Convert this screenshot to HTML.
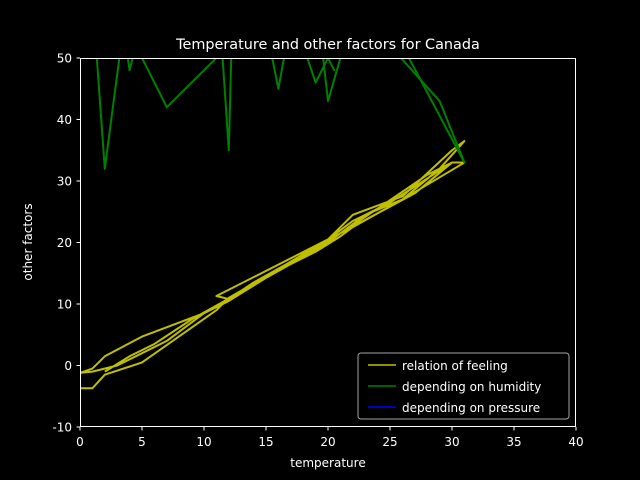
<!DOCTYPE html>
<html><head><meta charset="utf-8"><style>body{margin:0;background:#000}svg{display:block}text{font-family:"DejaVu Sans","Liberation Sans",sans-serif;fill:#fff}</style></head><body>
<svg id="c" width="640" height="480" xmlns="http://www.w3.org/2000/svg">
<rect width="640" height="480" fill="#000"/>
<defs><clipPath id="cp"><rect x="80" y="58" width="496" height="369"/></clipPath></defs>
<g id="plot" clip-path="url(#cp)"></g>
<rect x="80.5" y="58.5" width="495" height="368" fill="none" stroke="#fff" stroke-width="1"/>
<g id="ticks"></g>
<text x="328" y="49" font-size="14.4" text-anchor="middle">Temperature and other factors for Canada</text>
<text x="328" y="467" font-size="12" text-anchor="middle">temperature</text>
<text transform="translate(32,242) rotate(-90)" font-size="12" text-anchor="middle">other factors</text>
<g>
<rect x="358" y="353" width="211" height="66" rx="3" fill="#000" stroke="#ccc" stroke-opacity="0.8"/>
<line x1="368" y1="365" x2="396" y2="365" stroke="#bfbf00" stroke-width="1.5"/><text x="402" y="370" font-size="12">relation of feeling</text>
<line x1="368" y1="386" x2="396" y2="386" stroke="#008000" stroke-width="1.5"/><text x="402" y="391" font-size="12">depending on humidity</text>
<line x1="368" y1="407" x2="396" y2="407" stroke="#0000ff" stroke-width="1.5"/><text x="402" y="412" font-size="12">depending on pressure</text>
</g>
</svg>
<script>
const xTicks=[0,5,10,15,20,25,30,35,40];
const yTicks=[-10,0,10,20,30,40,50];
const humTemp=[1,2,3.5,4,4.5,7,11,11.3,12,12.3,15,16,17,18,19,20,20.5,19.5,20,21,22,25,29,31,26];
const humVal=[60,32,55,48,52,42,50,56,35,58,55,45,56,52,46,50,48,52,43,50,53,52,43,33,52];
const feelTemp=[0,1,2,5,11,12,15,20,22,26,30,31,29,26,22,21,19,15,10,7,5,3,1,0,1,2,5,10,12,16,20,23,26,31,30,25,22,20,11,12,14,18,21,24,28,30,27,21,17,13,9,6,4,2];
const feelVal=[-3.7,-3.7,-1.5,0.5,9,11,14.5,20.5,24.5,27.5,35,36.5,32,27,22.5,21,18.5,14.5,8.5,4,2,0,-1,-1.2,-0.5,1.5,4.7,8.5,10.5,15.5,20,24.5,27,33,33,26.5,23.5,20.5,11.3,10.8,13.5,18,21.5,25.5,31,33,28,21.5,16.5,12,7.5,3.5,1.5,-1];
const X=v=>80+v*12.4, Y=v=>427-(v+10)*6.15;
const NS="http://www.w3.org/2000/svg";
const plot=document.getElementById('plot'), tk=document.getElementById('ticks');
function line(xs,ys,col,name){const p=document.createElementNS(NS,'polyline');
p.setAttribute('points',xs.map((x,i)=>X(x)+','+Y(ys[i])).join(' '));
p.setAttribute('fill','none');p.setAttribute('stroke',col);p.setAttribute('stroke-width','2');p.setAttribute('stroke-linejoin','round');


plot.appendChild(p);}
line(feelTemp,feelVal,'#bfbf00','feeling-line');
line(humTemp,humVal,'#008000','humidity-line');
xTicks.forEach(v=>{const l=document.createElementNS(NS,'line');l.setAttribute('x1',X(v));l.setAttribute('x2',X(v));l.setAttribute('y1',427);l.setAttribute('y2',430.5);l.setAttribute('stroke','#fff');tk.appendChild(l);
const t=document.createElementNS(NS,'text');t.setAttribute('x',X(v));t.setAttribute('y',446);t.setAttribute('font-size','12');t.setAttribute('text-anchor','middle');t.textContent=v;


tk.appendChild(t);});
yTicks.forEach(v=>{const l=document.createElementNS(NS,'line');l.setAttribute('x1',76.5);l.setAttribute('x2',80);l.setAttribute('y1',Y(v));l.setAttribute('y2',Y(v));l.setAttribute('stroke','#fff');tk.appendChild(l);
const t=document.createElementNS(NS,'text');t.setAttribute('x',72);t.setAttribute('y',Y(v)+4.5);t.setAttribute('font-size','12');t.setAttribute('text-anchor','end');t.textContent=v;


tk.appendChild(t);});
</script>
</body></html>
